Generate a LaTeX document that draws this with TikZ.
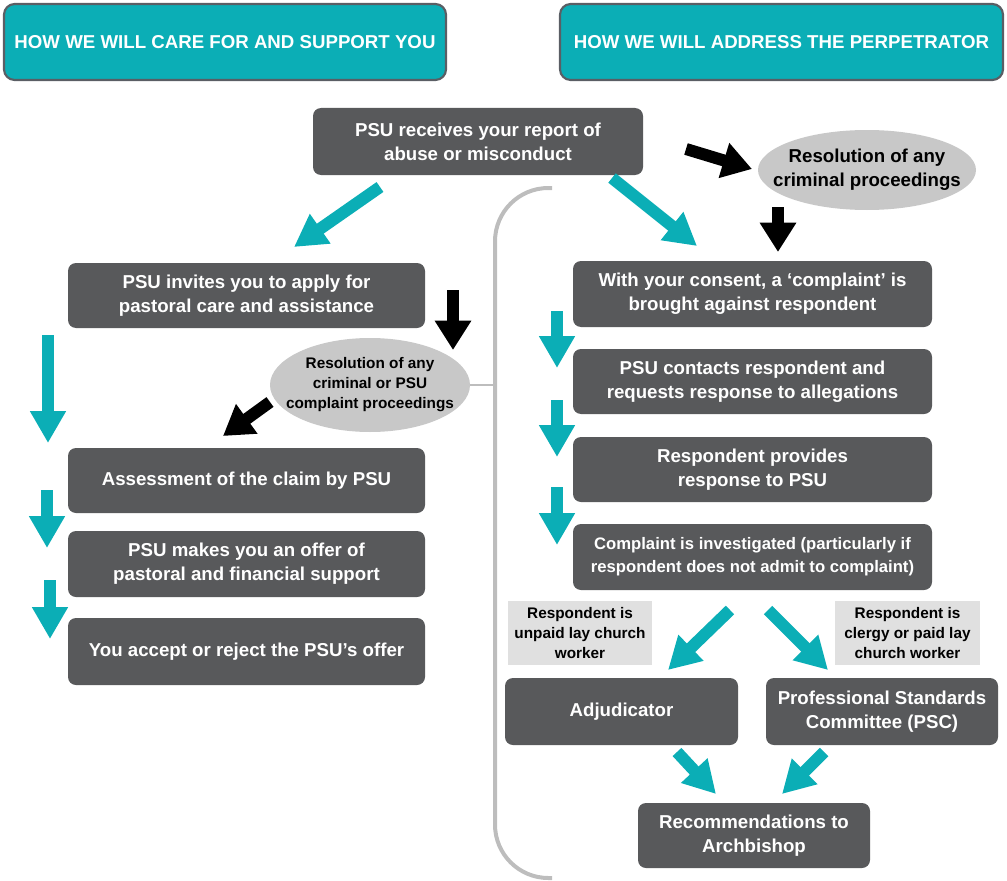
\documentclass[tikz,border=0pt]{standalone}
\usepackage{fontspec}
\setmainfont{Liberation Sans}
\usetikzlibrary{arrows.meta,shapes.geometric}
\definecolor{teal1}{HTML}{0BAEB6}
\definecolor{boxgrey}{HTML}{58595B}
\definecolor{hdrborder}{HTML}{5A5E64}
\definecolor{ellgrey}{HTML}{C8C8C8}
\definecolor{lblgrey}{HTML}{E0E0E0}
\definecolor{brgrey}{HTML}{BDBDBD}
\tikzset{
  hdr/.style={rectangle, rounded corners=8pt, fill=teal1, draw=hdrborder, line width=1.6pt,
    text=white, font=\bfseries\fontsize{14}{17}\selectfont, minimum width=331.5pt, minimum height=57pt, inner sep=0pt},
  box/.style={rectangle, rounded corners=6pt, fill=boxgrey, text=white, align=center,
    font=\bfseries\fontsize{14}{18}\selectfont, inner sep=0pt},
  ellbg/.style={ellipse, fill=ellgrey, inner sep=0pt},
  elltxt/.style={align=center, text=black, inner sep=0pt},
  lbl/.style={rectangle, fill=lblgrey, align=center, text=black,
    font=\bfseries\fontsize{11.5}{15}\selectfont, minimum width=108pt, minimum height=48pt, inner sep=0pt},
  tarrow/.style={draw=teal1, line width=9pt, -{Triangle[width=25.5pt,length=24pt]}, fill=teal1},
  barrow/.style={draw=black, line width=9pt, -{Triangle[width=26pt,length=22pt]}, fill=black},
  bracket/.style={draw=brgrey, line width=3pt, rounded corners=40pt}
}
\begin{document}
\begin{tikzpicture}[x=0.75pt,y=-0.75pt]
\useasboundingbox (0,0) rectangle (1007,881);
% headers
\node[hdr] (hdrL) at (225,42) {HOW WE WILL CARE FOR AND SUPPORT YOU};
\node[hdr, minimum width=332.25pt] (hdrR) at (781.5,42) {HOW WE WILL ADDRESS THE PERPETRATOR};
% bracket
\coordinate (brTop) at (552,188);
\coordinate (brBot) at (552,878);
\draw[bracket] (brTop) -- (495,188) -- (495,878) -- (brBot);
% top
\node[box, minimum width=247.5pt, minimum height=50.25pt] (top) at (478,141.5) {PSU receives your report of\\abuse or misconduct};
\node[ellbg, minimum width=163.5pt, minimum height=60pt] (ellT) at (867,170) {};
\node[elltxt, font=\bfseries\fontsize{14}{18}\selectfont] (ellTt) at (867,170) {Resolution of any\\criminal proceedings};
% left column
\node[box, minimum width=267.75pt, minimum height=48.75pt] (invite) at (246.5,295.5) {PSU invites you to apply for\\pastoral care and assistance};
\node[ellbg, minimum width=150pt, minimum height=70.5pt] (ellL) at (370,385) {};
\node[elltxt, font=\bfseries\fontsize{11.5}{15}\selectfont] (ellLt) at (370,385) {Resolution of any\\criminal or PSU\\complaint proceedings};
\node[box, minimum width=267.75pt, minimum height=48.75pt] (assess) at (246.5,480.5) {Assessment of the claim by PSU};
\node[box, minimum width=267.75pt, minimum height=49.5pt] (offer) at (246.5,564) {PSU makes you an offer of\\pastoral and financial support};
\node[box, minimum width=267.75pt, minimum height=50.25pt] (accept) at (246.5,651.5) {You accept or reject the PSU’s offer};
% link ellipse to bracket
\coordinate (brMid) at (495,385);
\draw[draw=brgrey, line width=2pt] (ellL.east) -- (brMid);
% right column
\node[box, minimum width=269.25pt, minimum height=49.5pt] (consent) at (752.5,294) {With your consent, a ‘complaint’ is\\brought against respondent};
\node[box, minimum width=269.25pt, minimum height=48.75pt] (contacts) at (752.5,381.5) {PSU contacts respondent and\\requests response to allegations};
\node[box, minimum width=269.25pt, minimum height=48.75pt] (provides) at (752.5,469.5) {Respondent provides\\response to PSU};
\node[box, minimum width=269.25pt, minimum height=49.5pt, font=\bfseries\fontsize{12.5}{17}\selectfont] (invest) at (752.5,557) {Complaint is investigated (particularly if\\respondent does not admit to complaint)};
\node[lbl] (lblL) at (580,633) {Respondent is\\unpaid lay church\\worker};
\node[lbl, minimum width=108.75pt] (lblR) at (907.5,633) {Respondent is\\clergy or paid lay\\church worker};
\node[box, minimum width=174.75pt, minimum height=50.25pt] (adj) at (621.5,711.5) {Adjudicator};
\node[box, minimum width=174pt, minimum height=50.25pt] (psc) at (882,711.5) {Professional Standards\\Committee (PSC)};
\node[box, minimum width=174pt, minimum height=48.75pt] (rec) at (754,835.5) {Recommendations to\\Archbishop};
% arrow end points
\coordinate (a1s) at (380,187); \coordinate (a1e) at (294,247);
\coordinate (a2s) at (612,178); \coordinate (a2e) at (697,246);
\coordinate (a3s) at (48,335); \coordinate (a3e) at (48,443);
\coordinate (a4s) at (47,490); \coordinate (a4e) at (47,548);
\coordinate (a5s) at (50,580); \coordinate (a5e) at (50,639);
\coordinate (a6s) at (557,311); \coordinate (a6e) at (557,368);
\coordinate (a7s) at (557,400); \coordinate (a7e) at (557,457);
\coordinate (a8s) at (557,487); \coordinate (a8e) at (557,545);
\coordinate (a9s) at (730,610); \coordinate (a9e) at (668,670);
\coordinate (a10s) at (768,610); \coordinate (a10e) at (828,670);
\coordinate (a11s) at (677,752); \coordinate (a11e) at (716,794);
\coordinate (a12s) at (824,752); \coordinate (a12e) at (782,794);
\coordinate (b1s) at (686,149); \coordinate (b1e) at (752,169);
\coordinate (b2s) at (778,207); \coordinate (b2e) at (778,252);
\coordinate (b3s) at (453,290); \coordinate (b3e) at (453,350);
\coordinate (b4s) at (270,402); \coordinate (b4e) at (223,436);
% teal arrows
\foreach \a in {a1,a2,a3,a4,a5,a6,a7,a8,a9,a10,a11,a12}
  \draw[tarrow] (\a s) -- (\a e);
% black arrows
\foreach \b in {b1,b2,b3,b4}
  \draw[barrow] (\b s) -- (\b e);
\end{tikzpicture}
\end{document}
